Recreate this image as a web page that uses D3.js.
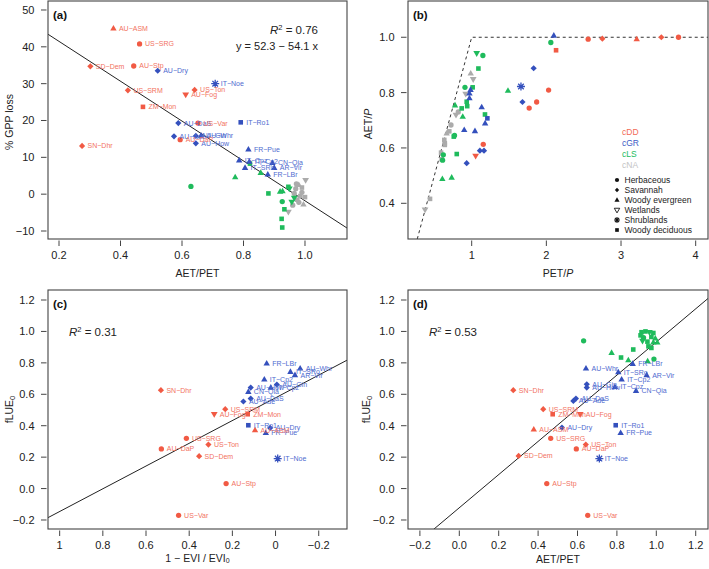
<!DOCTYPE html>
<html><head><meta charset="utf-8">
<script src="https://cdn.jsdelivr.net/npm/d3@7"></script>
<style>
body{margin:0;background:#fff}
svg{display:block}
text{font-family:"Liberation Sans",Arial,Helvetica,sans-serif}
</style>
</head><body>
<svg id="chart" width="709" height="569"></svg>
<script>
// ---------- DATA ----------
// rows: [site label, climate class, vegetation type, x, y]
// vegetation: H herbaceous, S savannah, T woody evergreen, W wetlands, R shrublands, D woody deciduous
const panelA = [ // x = AET/PET, y = % GPP loss
  ["AU-ASM","cDD","T",0.377,45.0],["US-SRG","cDD","H",0.462,40.8],["SD-Dem","cDD","S",0.302,34.7],
  ["AU-Stp","cDD","H",0.443,34.8],["US-SRM","cDD","S",0.424,28.2],["US-Ton","cDD","S",0.641,28.3],
  ["AU-Fog","cDD","W",0.612,27.0],["ZM-Mon","cDD","D",0.473,23.7],["US-Var","cDD","H",0.652,19.3],
  ["AU-DaP","cDD","H",0.594,14.8],["SN-Dhr","cDD","S",0.275,13.1],
  ["AU-Dry","cGR","S",0.521,33.5],["IT-Noe","cGR","R",0.708,30.0],["AU-DaS","cGR","S",0.588,19.3],
  ["IT-Ro1","cGR","D",0.791,19.5],["AU-Ade","cGR","S",0.574,15.7],["AU-Gin","cGR","S",0.645,15.8],
  ["AU-Whr","cGR","T",0.662,15.9],["AU-How","cGR","S",0.645,13.8],["FR-Pue","cGR","T",0.816,12.15],
  ["IT-Cpz","cGR","T",0.786,9.2],["IT-Cp2","cGR","T",0.819,8.8],["CN-Qia","cGR","T",0.894,8.5],
  ["AR-Vir","cGR","T",0.900,7.15],["IT-SRo","cGR","T",0.805,7.15],["FR-LBr","cGR","T",0.879,5.35],
  ["","cLS","H",0.629,2.1],["","cLS","T",0.773,4.6],["","cLS","T",0.856,5.8],["","cLS","D",0.821,8.3],
  ["","cLS","D",0.881,0.2],["","cLS","T",0.919,0.7],["","cLS","T",0.927,0.8],["","cLS","W",0.949,1.5],
  ["","cLS","D",0.946,2.0],["","cLS","H",0.926,-2.0],["","cLS","W",0.957,-2.1],["","cLS","W",0.965,-1.0],
  ["","cLS","D",0.933,-4.1],["","cLS","D",0.924,-6.7],["","cLS","D",0.926,-9.05],
  ["","cNA","W",1.002,3.8],["","cNA","W",0.946,-4.8],["","cNA","H",0.970,1.5],["","cNA","T",0.980,2.5],
  ["","cNA","D",0.985,-0.5],["","cNA","H",0.990,0.5],["","cNA","D",0.975,-1.5],["","cNA","T",0.995,-2.8],
  ["","cNA","H",0.965,0.2],["","cNA","H",0.980,-2.2],["","cNA","D",0.990,1.8],["","cNA","H",0.960,-3.0],
  ["","cNA","D",1.000,-0.8],["","cNA","H",0.972,2.8]
];
const panelB = [ // x = PET/P, y = AET/P
  ["","cDD","H",2.56,0.993],["","cDD","S",2.75,0.995],["","cDD","T",3.21,0.993],["","cDD","S",3.54,1.0],
  ["","cDD","H",3.77,1.0],["","cDD","D",2.13,0.953],["","cDD","H",2.03,0.809],["","cDD","H",1.87,0.766],
  ["","cDD","H",1.77,0.744],["","cDD","H",1.155,0.613],["","cDD","W",1.053,0.571],
  ["","cGR","T",2.10,1.006],["","cGR","S",1.83,0.888],["","cGR","R",1.66,0.822],["","cGR","S",1.68,0.766],
  ["","cGR","T",0.97,0.797],["","cGR","T",0.97,0.78],["","cGR","T",1.134,0.747],["","cGR","D",1.21,0.707],
  ["","cGR","T",1.18,0.689],["","cGR","T",0.90,0.665],["","cGR","T",1.044,0.661],["","cGR","S",1.11,0.59],
  ["","cGR","S",1.165,0.59],["","cGR","S",0.933,0.545],["","cGR","T",0.985,0.81],
  ["","cLS","H",2.06,0.981],["","cLS","W",1.067,0.942],["","cLS","H",1.15,0.934],["","cLS","D",1.09,0.887],
  ["","cLS","H",0.91,0.819],["","cLS","D",1.013,0.819],["","cLS","T",1.486,0.807],["","cLS","D",0.933,0.767],
  ["","cLS","D",0.94,0.751],["","cLS","T",0.777,0.754],["","cLS","D",0.866,0.743],["","cLS","T",0.88,0.713],
  ["","cLS","D",1.178,0.721],["","cLS","D",0.76,0.641],["","cLS","H",0.77,0.645],["","cLS","D",0.80,0.578],
  ["","cLS","H",0.62,0.575],["","cLS","H",0.61,0.556],["","cLS","T",0.607,0.488],["","cLS","T",0.732,0.493],
  ["","cNA","T",0.987,0.869],["","cNA","W",1.02,0.848],["","cNA","W",0.92,0.795],["","cNA","W",0.79,0.719],
  ["","cNA","H",0.82,0.73],["","cNA","H",0.723,0.683],["","cNA","T",0.665,0.653],["","cNA","D",0.70,0.66],
  ["","cNA","D",0.64,0.617],["","cNA","D",0.633,0.629],["","cNA","D",0.64,0.611],["","cNA","D",0.59,0.583],
  ["","cNA","D",0.598,0.559],["","cNA","D",0.442,0.416],["","cNA","W",0.375,0.377]
];
const panelC = [ // x = 1 - EVI/EVI0, y = fLUE0
  ["FR-LBr","cGR","T",0.041,0.796],["AU-Whr","cGR","T",-0.114,0.764],["IT-SRo","cGR","T",-0.069,0.743],
  ["AR-Vir","cGR","T",-0.090,0.722],["IT-Cp2","cGR","T",0.052,0.694],["AU-Gin","cGR","S",-0.006,0.662],
  ["IT-Cpz","cGR","T",0.022,0.643],["AU-How","cGR","S",0.115,0.643],["CN-Qia","cGR","T",0.126,0.616],
  ["AU-DaS","cGR","S",0.115,0.573],["AU-Ade","cGR","S",0.149,0.554],["IT-Ro1","cGR","D",0.126,0.403],
  ["AU-Dry","cGR","S",0.025,0.386],["FR-Pue","cGR","T",0.045,0.354],["IT-Noe","cGR","R",-0.010,0.191],
  ["SN-Dhr","cDD","S",0.531,0.626],["US-SRM","cDD","S",0.233,0.505],["AU-Fog","cDD","W",0.284,0.473],
  ["ZM-Mon","cDD","D",0.129,0.473],["AU-ASM","cDD","T",0.095,0.371],["US-SRG","cDD","H",0.413,0.320],
  ["US-Ton","cDD","S",0.311,0.280],["AU-DaP","cDD","H",0.529,0.252],["SD-Dem","cDD","S",0.354,0.206],
  ["AU-Stp","cDD","H",0.229,0.032],["US-Var","cDD","H",0.449,-0.170]
];
const panelD = [ // x = AET/PET, y = fLUE0
  ["","cLS","H",0.631,0.940],["","cLS","D",0.883,0.885],["","cLS","T",0.773,0.864],["","cLS","D",0.821,0.834],
  ["","cLS","T",0.858,0.817],["","cLS","H",0.988,0.824],["","cLS","T",0.956,0.811],
  ["","cLS","D",0.925,0.995],["","cLS","D",0.945,1.0],["","cLS","W",0.965,0.995],["","cLS","D",0.985,0.99],
  ["","cLS","D",0.92,0.975],["","cLS","H",0.935,0.96],["","cLS","D",0.975,0.965],["","cLS","T",0.995,0.955],
  ["","cLS","W",0.93,0.94],["","cLS","D",0.955,0.935],["","cLS","T",0.985,0.93],["","cLS","D",0.96,0.905],
  ["","cLS","D",0.975,0.895],["","cLS","T",1.005,0.93],
  ["FR-LBr","cGR","T",0.880,0.794],["AU-Whr","cGR","T",0.643,0.764],["IT-SRo","cGR","T",0.807,0.741],
  ["AR-Vir","cGR","T",0.951,0.722],["IT-Cp2","cGR","T",0.824,0.694],["AU-Gin","cGR","S",0.647,0.664],
  ["AU-How","cGR","S",0.647,0.643],["IT-Cpz","cGR","T",0.790,0.647],["CN-Qia","cGR","T",0.897,0.622],
  ["AU-DaS","cGR","S",0.592,0.573],["AU-Ade","cGR","S",0.579,0.558],["AU-Dry","cGR","S",0.521,0.388],
  ["IT-Ro1","cGR","D",0.794,0.403],["FR-Pue","cGR","T",0.819,0.354],["IT-Noe","cGR","R",0.711,0.191],
  ["SN-Dhr","cDD","S",0.274,0.626],["US-SRM","cDD","S",0.426,0.505],["ZM-Mon","cDD","D",0.474,0.473],
  ["AU-Fog","cDD","W",0.614,0.473],["AU-ASM","cDD","T",0.378,0.376],["US-SRG","cDD","H",0.464,0.320],
  ["US-Ton","cDD","S",0.642,0.280],["AU-DaP","cDD","H",0.594,0.252],["SD-Dem","cDD","S",0.301,0.208],
  ["AU-Stp","cDD","H",0.444,0.032],["US-Var","cDD","H",0.652,-0.170]
];
const ticksA = {x:[0.2,0.4,0.6,0.8,1.0], y:[-10,0,10,20,30,40,50]};
const ticksB = {x:[1,2,3,4], y:[0.4,0.6,0.8,1.0]};
const ticksC = {x:[1,0.8,0.6,0.4,0.2,0,-0.2], y:[-0.2,0,0.2,0.4,0.6,0.8,1.0,1.2]};
const ticksD = {x:[-0.2,0,0.2,0.4,0.6,0.8,1.0,1.2], y:[-0.2,0,0.2,0.4,0.6,0.8,1.0,1.2]};
const climateNames = ["cDD","cGR","cLS","cNA"];
const vegNames = [["H","Herbaceous"],["S","Savannah"],["T","Woody evergreen"],["W","Wetlands"],["R","Shrublands"],["D","Woody deciduous"]];
const fitA = [52.3, -54.1];   // intercept, slope
const fitC = [0.5775, -0.7235];
const fitD = [-0.122, 1.055];
const budyko = [[0.271,0.271],[1,1],[4.165,1]];

// ---------- STYLE ----------
const col = {cDD:"#F15A44", cGR:"#3450BD", cLS:"#1FBB5C", cNA:"#ABABAB"};
const labCol = {cDD:"#F2735F", cGR:"#4F6BCF", cLS:"#1FBB5C", cNA:"#ABABAB"};
const legCol = {cDD:"#F26A56", cGR:"#3E5CC6", cLS:"#22BB5E", cNA:"#C4C4C4"};
const axisCol = "#444";
const minus = s => s.replace("-", "\u2212");

function shape(v, s=1){
  switch(v){
    case "H": return d3.symbol(d3.symbolCircle, 22*s*s)();
    case "S": return `M0,${-3.1*s}L${3.1*s},0L0,${3.1*s}L${-3.1*s},0Z`;
    case "T": return `M0,${-3.5*s}L${3.2*s},${2.1*s}L${-3.2*s},${2.1*s}Z`;
    case "W": return `M${-3.4*s},${-2.2*s}L${3.4*s},${-2.2*s}L0,${3.6*s}Z`;
    case "D": return `M${-2.3*s},${-2.3*s}H${2.3*s}V${2.3*s}H${-2.3*s}Z`;
    case "R": { const a=4*s, b=2.8*s; return `M${-a},0H${a}M0,${-a}V${a}M${-b},${-b}L${b},${b}M${-b},${b}L${b},${-b}`; }
  }
}

const svg = d3.select("#chart");
let clipId = 0;

function panel(cfg){
  const {box, xd, yd, ticks, xfmt, yfmt, data} = cfg;
  const x = d3.scaleLinear().domain(xd).range([box[0], box[2]]);
  const y = d3.scaleLinear().domain(yd).range([box[3], box[1]]);
  const g = svg.append("g");
  const id = "clip" + (clipId++);
  svg.append("clipPath").attr("id", id).append("rect")
    .attr("x", box[0]).attr("y", box[1]).attr("width", box[2]-box[0]).attr("height", box[3]-box[1]);

  // ticks
  g.selectAll(".yt").data(ticks.y).enter().append("line")
    .attr("x1", box[0]-1.5).attr("x2", box[0]-7).attr("y1", d=>y(d)).attr("y2", d=>y(d))
    .attr("stroke", axisCol).attr("stroke-width", 1);
  g.selectAll(".yl").data(ticks.y).enter().append("text")
    .attr("x", box[0]-13.5).attr("y", d=>y(d)).attr("dy","0.36em").attr("text-anchor","end")
    .attr("font-size", 11).attr("fill","#222").text(d=>minus(yfmt(d)));
  g.selectAll(".xt").data(ticks.x).enter().append("line")
    .attr("y1", box[3]+1.5).attr("y2", box[3]+7).attr("x1", d=>x(d)).attr("x2", d=>x(d))
    .attr("stroke", axisCol).attr("stroke-width", 1);
  g.selectAll(".xl").data(ticks.x).enter().append("text")
    .attr("x", d=>x(d)).attr("y", box[3]+16).attr("dy","0.36em").attr("text-anchor","middle")
    .attr("font-size", 11).attr("fill","#222").text(d=>minus(xfmt(d)));

  // lines
  const cg = g.append("g").attr("clip-path", `url(#${id})`);
  if (cfg.fit){
    const [a,b] = cfg.fit;
    cg.append("line").attr("x1", x(xd[0])).attr("y1", y(a+b*xd[0]))
      .attr("x2", x(xd[1])).attr("y2", y(a+b*xd[1]))
      .attr("stroke","#222").attr("stroke-width",1);
  }
  if (cfg.dashed){
    cg.append("path").attr("d", d3.line().x(d=>x(d[0])).y(d=>y(d[1]))(cfg.dashed))
      .attr("fill","none").attr("stroke","#333").attr("stroke-width",1).attr("stroke-dasharray","3,3");
  }

  // points
  const order = {cNA:0, cLS:1, cGR:2, cDD:3};
  const pts = data.slice().sort((p,q)=>order[p[1]]-order[q[1]]);
  const pg = g.append("g");
  pts.forEach(p=>{
    const [lab, c, v, vx, vy] = p;
    const px = x(vx), py = y(vy);
    if (v === "R"){
      pg.append("path").attr("d", shape(v)).attr("transform",`translate(${px},${py})`)
        .attr("fill","none").attr("stroke", col[c]).attr("stroke-width",1.3);
    } else {
      pg.append("path").attr("d", shape(v)).attr("transform",`translate(${px},${py})`)
        .attr("fill", col[c]);
    }
  });
  const lg = g.append("g");
  pts.forEach(p=>{
    const [lab, c, v, vx, vy] = p;
    if (!lab) return;
    lg.append("text").attr("x", x(vx)+5.5).attr("y", y(vy)).attr("dy","0.36em")
      .attr("font-size", 7).attr("fill", labCol[c]).text(minus(lab));
  });

  // box
  g.append("rect").attr("x", box[0]).attr("y", box[1]).attr("width", box[2]-box[0]).attr("height", box[3]-box[1])
    .attr("fill","none").attr("stroke", axisCol).attr("stroke-width",1.1);

  // panel tag
  g.append("text").attr("x", box[0]+5).attr("y", box[1]+14).attr("dy","0.36em")
    .attr("font-size", 11.5).attr("font-weight","bold").attr("fill","#111").text(cfg.tag);

  // axis titles
  const xt = g.append("text").attr("x", (box[0]+box[2])/2).attr("y", box[3]+cfg.xtoff).attr("dy","0.36em")
    .attr("text-anchor","middle").attr("font-size",10.5).attr("fill","#222");
  cfg.xtitle(xt);
  const yt = g.append("text").attr("transform", `translate(${cfg.ytx},${(box[1]+box[3])/2+cfg.yoff}) rotate(-90)`)
    .attr("dy","0.36em").attr("text-anchor","middle").attr("font-size",10.5).attr("fill","#222");
  cfg.ytitle(yt);
  return {g, x, y};
}

function r2(g, xpos, ypos, val, anchor){
  const t = g.append("text").attr("x", xpos).attr("y", ypos).attr("dy","0.36em")
    .attr("text-anchor", anchor).attr("font-size", 11.5).attr("fill","#222");
  t.append("tspan").attr("font-style","italic").text("R");
  t.append("tspan").attr("font-size", 7.5).attr("dy","-0.5em").text("2");
  t.append("tspan").attr("dy","0.33em").text(" = " + val);
}

const f1 = d3.format(".1f");
const fInt = d3.format("d");

// Panel A
const A = panel({box:[48,1,347,239], xd:[0.1642,1.1366], yd:[-12.17,52.44], ticks:ticksA,
  xfmt:f1, yfmt:fInt, data:panelA, fit:fitA, tag:"(a)", ytx:9, yoff:2, xtoff:34,
  xtitle:t=>t.text("AET/PET"), ytitle:t=>t.text("% GPP loss")});
r2(A.g, 318, 30, "0.76", "end");
A.g.append("text").attr("x",318).attr("y",46).attr("dy","0.36em").attr("text-anchor","end")
  .attr("font-size",11).attr("fill","#222").text("y = 52.3 \u2212 54.1 x");

// Panel B
const B = panel({box:[408,1,708,239], xd:[0.147,4.165], yd:[0.271,1.131], ticks:ticksB,
  xfmt:fInt, yfmt:f1, data:panelB, dashed:budyko, tag:"(b)", ytx:368, yoff:4, xtoff:34,
  xtitle:t=>{t.append("tspan").text("PET/"); t.append("tspan").attr("font-style","italic").text("P");},
  ytitle:t=>{t.append("tspan").text("AET/"); t.append("tspan").attr("font-style","italic").text("P");}});
// legend
climateNames.forEach((c,i)=>{
  B.g.append("text").attr("x",622).attr("y",132+i*11).attr("dy","0.36em").attr("font-size",8.5)
    .attr("fill", legCol[c]).text(c);
});
vegNames.forEach(([v,name],i)=>{
  const yy = 180+i*10, xx = 617;
  const s = v==="S" ? 0.7 : 0.8;
  if (v==="R"){
    B.g.append("path").attr("d", shape(v,0.75)).attr("transform",`translate(${xx},${yy})`)
      .attr("fill","none").attr("stroke","#111").attr("stroke-width",1.1);
  } else if (v==="W"){
    B.g.append("path").attr("d", shape(v,0.8)).attr("transform",`translate(${xx},${yy})`)
      .attr("fill","none").attr("stroke","#111").attr("stroke-width",0.9);
  } else {
    B.g.append("path").attr("d", shape(v,s)).attr("transform",`translate(${xx},${yy})`).attr("fill","#111");
  }
  B.g.append("text").attr("x",624.5).attr("y",yy).attr("dy","0.36em").attr("font-size",8.5)
    .attr("fill","#222").text(name);
});

// Panel C
const C = panel({box:[48,290,347,529], xd:[1.054,-0.331], yd:[-0.2573,1.2637], ticks:ticksC,
  xfmt:d=>d===0?"0":(d===1?"1":f1(d)), yfmt:f1, data:panelC, fit:fitC, tag:"(c)", ytx:9, yoff:0, xtoff:29,
  xtitle:t=>{t.append("tspan").text("1 \u2212 EVI / EVI"); t.append("tspan").attr("font-size",7).attr("dy","0.22em").text("0");},
  ytitle:t=>{t.append("tspan").text("fLUE"); t.append("tspan").attr("font-size",7.5).attr("dy","0.3em").text("0");}});
r2(C.g, 69, 332, "0.31", "start");

// Panel D
const D = panel({box:[408,290,708,529], xd:[-0.2604,1.2624], yd:[-0.2573,1.2637], ticks:ticksD,
  xfmt:f1, yfmt:f1, data:panelD, fit:fitD, tag:"(d)", ytx:366, yoff:0, xtoff:30,
  xtitle:t=>t.text("AET/PET"),
  ytitle:t=>{t.append("tspan").text("fLUE"); t.append("tspan").attr("font-size",7.5).attr("dy","0.3em").text("0");}});
r2(D.g, 429, 332, "0.53", "start");
</script>
</body></html>
